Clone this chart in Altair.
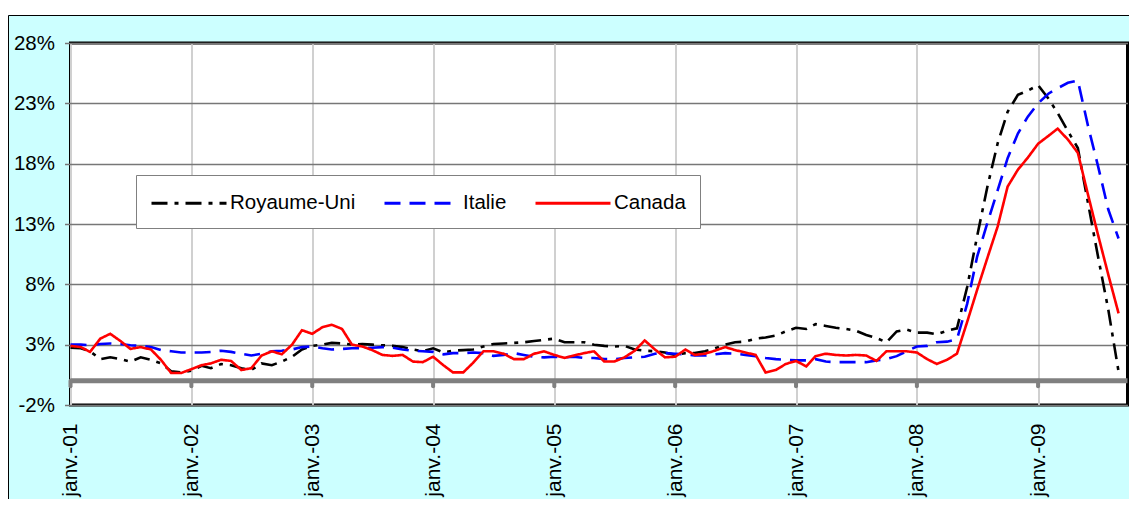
import altair as alt
import pandas as pd

# ---- data (monthly, janv. 2001 -> sept. 2009) ----
pays = ["Royaume-Uni", "Italie", "Canada"]

royaume_uni = [2.75, 2.7, 2.45, 1.8, 1.95, 1.8, 1.6, 1.95, 1.75, 1.45, 0.8, 0.7,
               0.85, 1.25, 1.05, 1.4, 1.3, 1.05, 0.9, 1.45, 1.3, 1.6, 2.0, 2.6,
               2.9, 3.0, 3.15, 3.1, 3.0, 3.05, 3.0, 2.95, 2.9, 2.8, 2.6, 2.45,
               2.7, 2.35, 2.5, 2.55, 2.6, 2.85, 3.05, 3.1, 3.15, 3.2, 3.3, 3.4,
               3.5, 3.2, 3.2, 3.2, 3.0, 2.9, 2.85, 2.9, 2.6, 2.5, 2.45, 2.35,
               2.15, 2.3, 2.3, 2.45, 2.7, 3.0, 3.2, 3.25, 3.5, 3.6, 3.75, 4.1,
               4.4, 4.3, 4.7, 4.55, 4.4, 4.3, 4.15, 3.8, 3.55, 3.2, 4.1, 4.25,
               4.0, 4.0, 3.85, 4.15, 4.35, 7.8, 12.0, 16.1, 19.7, 22.3, 23.7, 24.05,
               24.5, 23.4, 22.2, 20.7, 19.3, 14.7, 10.3, 5.9, 0.77]

italie = [3.0, 3.0, 2.95, 3.05, 3.1, 3.05, 2.95, 2.9, 2.8, 2.55, 2.45, 2.35,
          2.35, 2.35, 2.4, 2.5, 2.4, 2.25, 2.1, 2.25, 2.45, 2.5, 2.6, 2.8,
          2.85, 2.7, 2.6, 2.65, 2.7, 2.7, 2.75, 2.8, 2.75, 2.6, 2.5, 2.45,
          2.4, 2.2, 2.3, 2.3, 2.35, 2.3, 2.07, 2.15, 2.3, 2.15, 2.0, 1.95,
          2.0, 1.95, 2.0, 1.9, 1.9, 1.8, 1.8, 1.9, 1.95, 2.0, 2.25, 2.3,
          2.25, 2.2, 2.1, 2.1, 2.2, 2.3, 2.25, 2.15, 2.05, 1.9, 1.8, 1.75,
          1.7, 1.7, 1.8, 1.6, 1.55, 1.55, 1.55, 1.55, 1.7, 1.8, 2.05, 2.45,
          2.85, 2.9, 3.2, 3.25, 3.45, 6.4, 10.3, 13.1, 15.8, 18.45, 20.5, 21.9,
          23.0, 23.8, 24.25, 24.7, 24.9, 21.1, 17.8, 14.2, 11.8]

canada = [2.9, 2.8, 2.4, 3.5, 3.9, 3.3, 2.65, 2.8, 2.6, 1.75, 0.65, 0.65,
          0.97, 1.3, 1.45, 1.75, 1.65, 0.9, 1.05, 2.1, 2.45, 2.2, 3.0, 4.2,
          3.9, 4.45, 4.65, 4.3, 3.0, 2.85, 2.55, 2.15, 2.07, 2.15, 1.6, 1.55,
          2.0, 1.3, 0.7, 0.7, 1.5, 2.45, 2.45, 2.25, 1.8, 1.8, 2.25, 2.45,
          2.15, 1.9, 2.1, 2.3, 2.45, 1.6, 1.6, 1.95, 2.5, 3.35, 2.6, 1.95,
          2.0, 2.6, 2.15, 2.25, 2.5, 2.8, 2.55, 2.35, 2.15, 0.7, 0.9, 1.4,
          1.65, 1.2, 2.05, 2.25, 2.15, 2.1, 2.15, 2.1, 1.65, 2.45, 2.45, 2.45,
          2.35, 1.8, 1.4, 1.75, 2.25, 4.9, 7.55, 10.2, 12.8, 16.1, 17.5, 18.5,
          19.65, 20.3, 20.9, 20.0, 18.9, 15.4, 12.1, 8.8, 5.6]

mois = [f"{2001 + i // 12}-{i % 12 + 1:02d}-01T00:00:00" for i in range(len(canada))]
annees = list(range(2001, 2010))
y_ticks = [-2, 3, 8, 13, 18, 23, 28]

rows = []
for nom, serie in zip(pays, [royaume_uni, italie, canada]):
    for d, v in zip(mois, serie):
        rows.append({"date": d, "pays": nom, "valeur": v})
df = pd.DataFrame(rows)

janv = pd.DataFrame({"date": [f"{a}-01-01T00:00:00" for a in annees],
                     "valeur": [0.0] * len(annees),
                     "bas": [-0.45] * len(annees)})
zero_df = pd.DataFrame({"valeur": [0.0]})
one = pd.DataFrame({"k": [0]})

FONT = "Liberation Sans"
W, H = 1057, 362

x_enc = alt.X(
    "date:T",
    scale=alt.Scale(domain=[alt.DateTime(year=2001, month=1, date=1),
                            alt.DateTime(year=2009, month=9, date=28)]),
    axis=alt.Axis(values=[alt.DateTime(year=a, month=1, date=1) for a in annees],
                  labelExpr="'janv.-' + timeFormat(datum.value, '%y')",
                  labelAngle=270, labelFontSize=21, labelFont=FONT, labelColor="black",
                  labelPadding=18, ticks=False, tickSize=0, domain=False,
                  grid=True, gridColor="#D0D0D0", gridWidth=2, title=None),
)
y_enc = alt.Y(
    "valeur:Q",
    scale=alt.Scale(domain=[-2, 28], nice=False, zero=False),
    axis=alt.Axis(values=y_ticks, labelExpr="datum.value + '%'",
                  labelFontSize=20.5, labelFont=FONT, labelColor="black",
                  tickSize=6, tickColor="#777777", tickWidth=1.5, labelPadding=10,
                  domain=False, grid=True, gridColor="#777777", gridWidth=1.5,
                  title=None),
)

# custom horizontal stroke symbol: size 625 -> radius 12.5, path from -1 to 5 -> 75 px long
leg = alt.Legend(orient="none", legendX=65.5, legendY=132, direction="horizontal",
                 title=None, symbolType="M-1,0H5", symbolSize=625, symbolStrokeWidth=3,
                 labelFontSize=20.5, labelFont=FONT, labelColor="black", labelOffset=52,
                 columnPadding=22, padding=14, fillColor="white", strokeColor="#808080")

lines = alt.Chart(df).mark_line(strokeWidth=2.6).encode(
    x=x_enc,
    y=y_enc,
    color=alt.Color("pays:N", sort=pays,
                    scale=alt.Scale(domain=pays, range=["#000000", "#0000FF", "#FF0000"]),
                    legend=leg),
    strokeDash=alt.StrokeDash("pays:N", sort=pays,
                              scale=alt.Scale(domain=pays, range=[[16, 7, 4, 7], [16, 9], [1, 0]]),
                              legend=leg),
)

zero_line = alt.Chart(zero_df).mark_rule(color="#808080", strokeWidth=5).encode(y=y_enc)

knobs = alt.Chart(janv).mark_rule(color="#808080", strokeWidth=4, strokeCap="round").encode(
    x=x_enc, y=y_enc, y2="bas:Q")

top_strip = alt.Chart(one).mark_rect(fill="white").encode(
    x=alt.value(-63), x2=alt.value(1070), y=alt.value(-36), y2=alt.value(-28))
frame = alt.Chart(one).mark_rect(fillOpacity=0, stroke="black", strokeWidth=1).encode(
    x=alt.value(-62), x2=alt.value(1075), y=alt.value(-27.5), y2=alt.value(480))

chart = alt.layer(top_strip, frame, zero_line, knobs, lines).properties(
    width=W, height=H,
    background="#CCFFFF",
    padding={"left": 62.5, "top": 35, "right": 1.5, "bottom": 94},
    autosize=alt.AutoSizeParams(type="none"),
).configure_view(
    fill="white", stroke="black", strokeWidth=3
)

chart.save("out.html", embed_options={"renderer": "svg", "actions": False})
